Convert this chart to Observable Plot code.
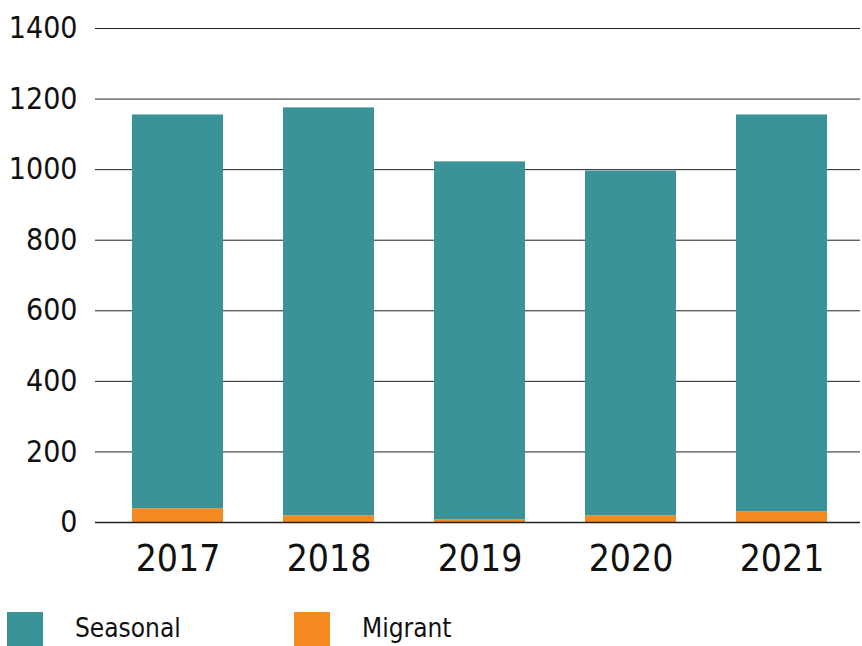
<!DOCTYPE html>
<html>
<head>
<meta charset="utf-8">
<script src="https://cdn.jsdelivr.net/npm/d3@7"></script>
<script src="https://cdn.jsdelivr.net/npm/@observablehq/plot@0.6"></script>
<style>
  body { margin: 0; background: #fff; font-family: "DejaVu Sans", sans-serif; font-stretch: condensed; }
  #chart svg { display: block; }
  #chart svg, #chart svg text { font-stretch: condensed; }
  .legend { position: relative; height: 46px; width: 862px; }
  .sw { position: absolute; top: 12px; width: 36px; height: 34px; }
  .lab { position: absolute; top: 11px; font-size: 26px; line-height: 34px; color: #111; font-stretch: condensed; }
</style>
</head>
<body>
<div id="chart"></div>
<div class="legend">
  <div class="sw" style="left:7px;background:#3A9399"></div>
  <div class="lab" style="left:75px">Seasonal</div>
  <div class="sw" style="left:294px;background:#F68A22"></div>
  <div class="lab" style="left:362px">Migrant</div>
</div>
<script>
const years = ["2017", "2018", "2019", "2020", "2021"];
const seasonal = [1116, 1156, 1014, 977, 1125];
const migrant = [39, 19, 8, 19, 30];
const yTicks = [0, 200, 400, 600, 800, 1000, 1200, 1400];
const seriesNames = ["Migrant", "Seasonal"];
const seriesColors = ["#F68A22", "#3A9399"];

const rows = [];
years.forEach((y, i) => {
  rows.push({year: y, type: "Migrant", value: migrant[i]});
  rows.push({year: y, type: "Seasonal", value: seasonal[i]});
});

const chart = Plot.plot({
  width: 862,
  height: 600,
  marginLeft: 100,
  marginRight: 4,
  marginTop: 28,
  marginBottom: 78,
  style: {fontFamily: '"DejaVu Sans", sans-serif', color: "#111", background: "#fff"},
  x: {domain: years, label: null, paddingInner: 0.4, paddingOuter: 0.2},
  y: {domain: [0, 1400], label: null},
  color: {domain: seriesNames, range: seriesColors},
  marks: [
    Plot.ruleY(yTicks, {stroke: "#222", strokeWidth: 1, insetLeft: -5, insetRight: -2}),
    Plot.barY(rows, {x: "year", y: "value", fill: "type"}),
    Plot.ruleY([0], {stroke: "#222", strokeWidth: 1.5, insetLeft: -5, insetRight: -2}),
    Plot.axisY({ticks: yTicks, tickFormat: d3.format("d"), tickSize: 0, tickPadding: 23, fontSize: 30, label: null}),
    Plot.axisX({tickSize: 0, tickPadding: 22, fontSize: 37, label: null})
  ]
});
document.getElementById("chart").append(chart);
</script>
</body>
</html>
